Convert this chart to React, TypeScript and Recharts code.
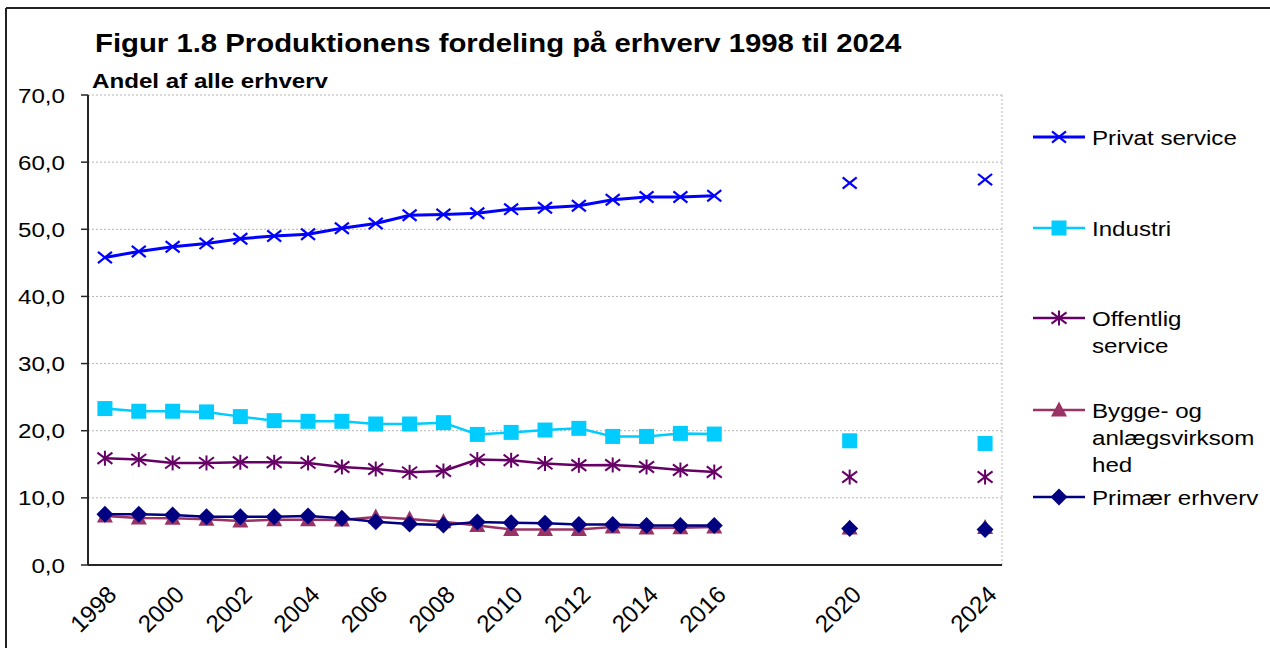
import React from 'react';
import { LineChart, Line, XAxis, YAxis, CartesianGrid, Legend } from 'recharts';

// ---------- data ----------
const years = [
  1998, 1999, 2000, 2001, 2002, 2003, 2004, 2005, 2006, 2007, 2008, 2009, 2010, 2011,
  2012, 2013, 2014, 2015, 2016, 2017, 2018, 2019, 2020, 2021, 2022, 2023, 2024,
];
const privatService = [
  45.8, 46.7, 47.4, 47.9, 48.6, 49.0, 49.25, 50.15, 50.85, 52.1, 52.2, 52.4, 53.0, 53.2,
  53.5, 54.4, 54.8, 54.8, 55.0, null, null, null, 56.9, null, null, null, 57.4,
];
const industri = [
  23.3, 22.9, 22.9, 22.8, 22.1, 21.5, 21.4, 21.4, 21.0, 21.0, 21.2, 19.45, 19.75, 20.1,
  20.35, 19.15, 19.15, 19.6, 19.5, null, null, null, 18.5, null, null, null, 18.1,
];
const offentligService = [
  15.9, 15.7, 15.2, 15.2, 15.3, 15.3, 15.2, 14.6, 14.3, 13.8, 14.0, 15.7, 15.6, 15.1,
  14.85, 14.9, 14.6, 14.15, 13.85, null, null, null, 13.1, null, null, null, 13.1,
];
const byggeAnlaeg = [
  7.3, 7.0, 6.95, 6.8, 6.55, 6.75, 6.75, 6.7, 7.15, 6.85, 6.45, 5.9, 5.3, 5.3,
  5.3, 5.65, 5.5, 5.55, 5.65, null, null, null, 5.5, null, null, null, 5.6,
];
const primaerErhverv = [
  7.55, 7.55, 7.45, 7.2, 7.2, 7.2, 7.3, 6.95, 6.45, 6.1, 5.95, 6.4, 6.3, 6.2,
  6.05, 6.05, 5.9, 5.9, 5.9, null, null, null, 5.45, null, null, null, 5.3,
];
const labelYears = [1998, 2000, 2002, 2004, 2006, 2008, 2010, 2012, 2014, 2016, 2020, 2024];
const yTicks = [0, 10, 20, 30, 40, 50, 60, 70];
const titleText = 'Figur 1.8 Produktionens fordeling på erhverv 1998 til 2024';
const subtitleText = 'Andel af alle erhverv';

type Marker = 'x' | 'square' | 'asterisk' | 'triangle' | 'diamond';
const series: { key: string; name: string; legendLines: string[]; color: string; marker: Marker; width: number }[] = [
  { key: 'privat', name: 'Privat service', legendLines: ['Privat service'], color: '#0000FF', marker: 'x', width: 3 },
  { key: 'industri', name: 'Industri', legendLines: ['Industri'], color: '#00CCFF', marker: 'square', width: 2.5 },
  { key: 'offentlig', name: 'Offentlig service', legendLines: ['Offentlig', 'service'], color: '#660066', marker: 'asterisk', width: 2.5 },
  { key: 'bygge', name: 'Bygge- og anlægsvirksomhed', legendLines: ['Bygge- og', 'anlægsvirksom', 'hed'], color: '#993366', marker: 'triangle', width: 2.5 },
  { key: 'primaer', name: 'Primær erhverv', legendLines: ['Primær erhverv'], color: '#000080', marker: 'diamond', width: 2.5 },
];
const seriesValues: Record<string, (number | null)[]> = {
  privat: privatService,
  industri,
  offentlig: offentligService,
  bygge: byggeAnlaeg,
  primaer: primaerErhverv,
};

const data = years.map((year, i) => {
  const row: Record<string, number | null> = { year };
  series.forEach((s) => {
    row[s.key] = seriesValues[s.key][i];
  });
  return row;
});
const boundaries = [...years.map((y) => y - 0.5), years[years.length - 1] + 0.5];
const xDomain: [number, number] = [boundaries[0], boundaries[boundaries.length - 1]];

// ---------- style ----------
const FONT = '"Liberation Sans", Arial, sans-serif';
const SX = 1.15;
const GRID = '#B5B5B5';
const AXIS = '#262626';
const FRAME = '#808080';

function MarkerShape({ type, cx, cy, color }: { type: Marker; cx: number; cy: number; color: string }) {
  switch (type) {
    case 'x': {
      const r = 7;
      return (
        <g stroke={color} strokeWidth={2.2}>
          <line x1={cx - r} y1={cy - r * 0.8} x2={cx + r} y2={cy + r * 0.8} />
          <line x1={cx - r} y1={cy + r * 0.8} x2={cx + r} y2={cy - r * 0.8} />
        </g>
      );
    }
    case 'square':
      return <rect x={cx - 7.5} y={cy - 7.5} width={15} height={15} fill={color} />;
    case 'asterisk': {
      const r = 7.5;
      return (
        <g stroke={color} strokeWidth={2}>
          <line x1={cx} y1={cy - r} x2={cx} y2={cy + r} />
          <line x1={cx - r} y1={cy - r * 0.75} x2={cx + r} y2={cy + r * 0.75} />
          <line x1={cx - r} y1={cy + r * 0.75} x2={cx + r} y2={cy - r * 0.75} />
        </g>
      );
    }
    case 'triangle':
      return <polygon points={`${cx},${cy - 8.5} ${cx + 8},${cy + 6.5} ${cx - 8},${cy + 6.5}`} fill={color} />;
    case 'diamond':
      return <polygon points={`${cx},${cy - 8.5} ${cx + 8.5},${cy} ${cx},${cy + 8.5} ${cx - 8.5},${cy}`} fill={color} />;
  }
  return null;
}

const makeDot = (type: Marker, color: string) => (p: any) => {
  const k = `${type}-${p.index}`;
  if (p.cx == null || p.cy == null || p.value == null || (Array.isArray(p.value) && p.value[1] == null)) {
    return <g key={k} />;
  }
  return (
    <g key={k}>
      <MarkerShape type={type} cx={p.cx} cy={p.cy} color={color} />
    </g>
  );
};

const YTick = (props: any) => {
  const { x, y, payload } = props;
  const label = Number(payload.value).toFixed(1).replace('.', ',');
  return (
    <g transform={`translate(${x - 14},${y}) scale(${SX},1)`}>
      <text x={0} y={0} dy="0.36em" textAnchor="end" fontSize={21} fontFamily={FONT} fill="#000">
        {label}
      </text>
    </g>
  );
};

const XTick = (props: any) => {
  const { x, y, payload } = props;
  return (
    <g transform={`translate(${x + 7},${y + 17}) rotate(-45)`}>
      <text x={0} y={0} dy="0.36em" textAnchor="end" fontSize={24} fontFamily={FONT} fill="#000">
        {payload.value}
      </text>
    </g>
  );
};

const legendRowY = [37, 128, 218, 310, 397];
const LegendContent = () => (
  <svg width={245} height={430} style={{ display: 'block', overflow: 'visible' }}>
    {series.map((s, i) => {
      const cy = legendRowY[i];
      return (
        <g key={s.key}>
          <line x1={8} y1={cy} x2={60} y2={cy} stroke={s.color} strokeWidth={s.width} />
          <MarkerShape type={s.marker} cx={34} cy={cy} color={s.color} />
          <g transform={`translate(67,${cy}) scale(${SX},1)`}>
            <text x={0} y={0} fontSize={21} fontFamily={FONT} fill="#000">
              {s.legendLines.map((ln, j) => (
                <tspan key={j} x={0} dy={j === 0 ? '0.36em' : 27}>
                  {ln}
                </tspan>
              ))}
            </text>
          </g>
        </g>
      );
    })}
  </svg>
);

export default function App() {
  return (
    <div style={{ position: 'absolute', left: 0, top: 0, width: 1270, height: 648, overflow: 'hidden', background: '#fff' }}>
      <LineChart
        width={1270}
        height={648}
        data={data}
        margin={{ top: 95, right: 268, bottom: 0, left: 0 }}
        style={{ fontFamily: FONT }}
      >
        <CartesianGrid xAxisId="bounds" yAxisId="left" stroke={GRID} strokeDasharray="2 2" strokeWidth={1} />
        <XAxis
          xAxisId="bounds"
          dataKey="year"
          type="number"
          domain={xDomain}
          allowDataOverflow
          ticks={boundaries}
          interval={0}
          tick={false}
          tickLine={{ stroke: AXIS, strokeWidth: 1.5 }}
          tickSize={7}
          axisLine={false}
          height={0}
        />
        <XAxis
          xAxisId="main"
          dataKey="year"
          type="number"
          domain={xDomain}
          allowDataOverflow
          ticks={labelYears}
          interval={0}
          tick={<XTick />}
          tickLine={false}
          axisLine={{ stroke: AXIS, strokeWidth: 2 }}
          height={83}
        />
        <XAxis
          xAxisId="top"
          orientation="top"
          dataKey="year"
          type="number"
          domain={xDomain}
          allowDataOverflow
          tick={false}
          tickLine={false}
          axisLine={{ stroke: FRAME, strokeWidth: 2.5 }}
          height={0}
        />
        <YAxis
          yAxisId="left"
          domain={[0, 70]}
          ticks={yTicks}
          interval={0}
          tick={<YTick />}
          tickLine={{ stroke: AXIS, strokeWidth: 1.5 }}
          tickSize={7}
          axisLine={{ stroke: AXIS, strokeWidth: 2 }}
          width={88}
        />
        <YAxis
          yAxisId="right"
          orientation="right"
          domain={[0, 70]}
          tick={false}
          tickLine={false}
          axisLine={{ stroke: FRAME, strokeWidth: 3 }}
          width={0}
        />
        {series.map((s) => (
          <Line
            key={s.key}
            xAxisId="main"
            yAxisId="left"
            dataKey={s.key}
            name={s.name}
            stroke={s.color}
            strokeWidth={s.width}
            type="linear"
            connectNulls={false}
            isAnimationActive={false}
            dot={makeDot(s.marker, s.color)}
            activeDot={false}
          />
        ))}
        <Legend
          layout="horizontal"
          align="center"
          verticalAlign="middle"
          content={<LegendContent />}
          wrapperStyle={{ position: 'absolute', left: 1025, top: 100, width: 245, height: 430 }}
        />
      </LineChart>
      <svg
        width={1270}
        height={648}
        style={{ position: 'absolute', left: 0, top: 0, pointerEvents: 'none' }}
      >
        <line x1={6} y1={8} x2={1270} y2={8} stroke="#222" strokeWidth={2} />
        <line x1={6} y1={8} x2={6} y2={648} stroke="#222" strokeWidth={2} />
        <g transform={`translate(95,52) scale(${SX},1)`}>
          <text x={0} y={0} fontSize={25.5} fontWeight="bold" fontFamily={FONT} fill="#000">
            {titleText}
          </text>
        </g>
        <g transform={`translate(92,88) scale(${SX},1)`}>
          <text x={0} y={0} fontSize={21} fontWeight="bold" fontFamily={FONT} fill="#000">
            {subtitleText}
          </text>
        </g>
      </svg>
    </div>
  );
}
